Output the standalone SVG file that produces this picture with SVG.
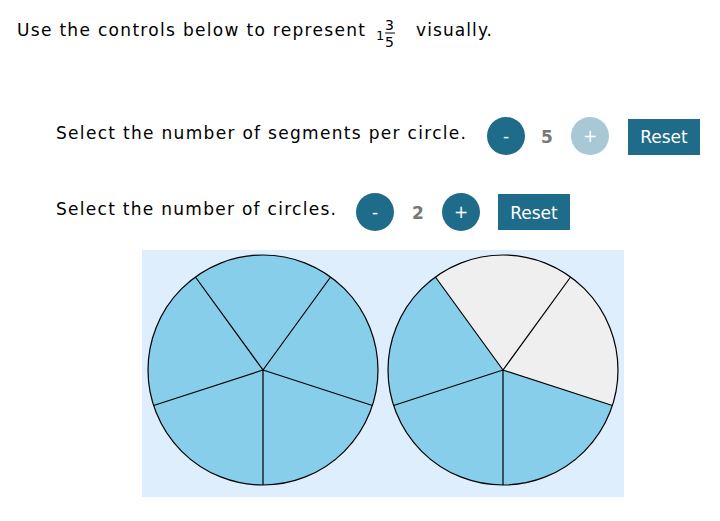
<svg xmlns="http://www.w3.org/2000/svg" width="720" height="521" viewBox="0 0 720 521">
<style>
text{font-family:"DejaVu Sans",Verdana,sans-serif;fill:#000}
.lbl{font-size:17px}
.btn{fill:#1f6b8a}
.btnoff{fill:#a8c8d6}
.bt{fill:#fff;font-size:17px;text-anchor:middle}
.num{fill:#777;font-size:17px;font-weight:bold;text-anchor:middle}
.sl{stroke:#000;stroke-width:1.2}
.b{fill:#87ceeb}
.g{fill:#efefef}
</style>
<rect width="720" height="521" fill="#fff"/>
<g id="title">
<text class="lbl" x="17" y="36" textLength="348">Use the controls below to represent</text>
<text x="376" y="40" font-size="13">1</text>
<text x="385" y="30" font-size="14">3</text>
<line x1="385" y1="33" x2="395" y2="33" stroke="#000" stroke-width="1"/>
<text x="385" y="47" font-size="14">5</text>
<text class="lbl" x="416" y="36" textLength="76">visually.</text>
</g>
<g id="segments-control">
<text class="lbl" x="56" y="139" textLength="410">Select the number of segments per circle.</text>
<circle class="btn" cx="506" cy="136" r="19"/><text class="bt" x="506" y="142">-</text>
<text class="num" x="547" y="143">5</text>
<circle class="btnoff" cx="590" cy="136" r="19"/><text class="bt" x="590" y="142">+</text>
<rect class="btn" x="628" y="119" width="72" height="36"/><text class="bt" x="664" y="143">Reset</text>
</g>
<g id="circles-control">
<text class="lbl" x="56" y="215" textLength="280">Select the number of circles.</text>
<circle class="btn" cx="375" cy="212" r="19"/><text class="bt" x="375" y="218">-</text>
<text class="num" x="418" y="219">2</text>
<circle class="btn" cx="461" cy="212" r="19"/><text class="bt" x="461" y="218">+</text>
<rect class="btn" x="498" y="194" width="72" height="36"/><text class="bt" x="534" y="219">Reset</text>
</g>
<rect id="panel" x="142" y="250" width="482" height="247" fill="#deeefd"/>
<g id="circle1">
<circle cx="263" cy="370" r="115" class="b sl"/>
<path class="sl" fill="none" d="M263 370L263 485M263 370L153.6 405.5M263 370L195.4 277M263 370L330.6 277M263 370L372.4 405.5"/>
</g>
<g id="circle2">
<circle cx="503" cy="370" r="115" class="b"/>
<path class="g" d="M503 370L435.4 277A115 115 0 0 1 612.4 405.5Z"/>
<circle cx="503" cy="370" r="115" class="sl" fill="none"/>
<path class="sl" fill="none" d="M503 370L503 485M503 370L393.6 405.5M503 370L435.4 277M503 370L570.6 277M503 370L612.4 405.5"/>
</g>
</svg>
